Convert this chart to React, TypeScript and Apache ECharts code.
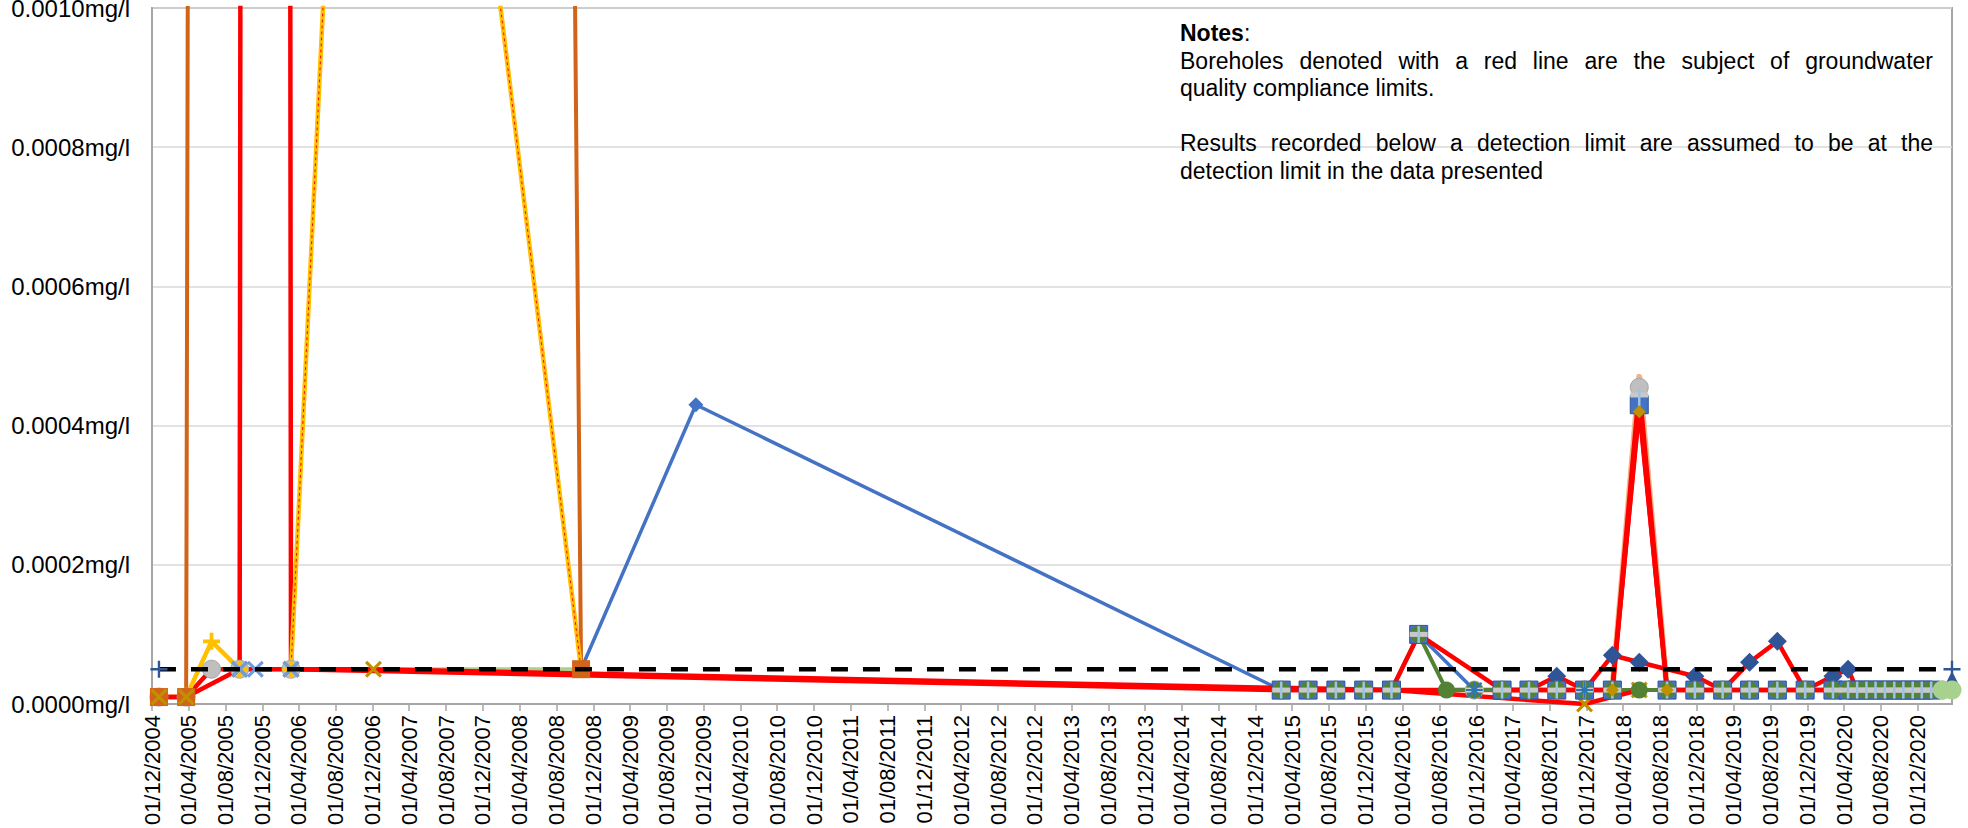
import React, { useEffect, useRef } from 'react';
import * as echarts from 'echarts';

// Sampling dates shared by all boreholes (yyyy-mm-dd)
const sampleDates = [
  '2004-12-24', '2005-03-24', '2005-06-16', '2005-09-17', '2005-11-08', '2005-12-15', '2006-03-06', '2006-12-04', '2008-10-21', '2009-11-05',
  '2015-02-24', '2015-05-24', '2015-08-24', '2015-11-24', '2016-02-24', '2016-05-24', '2016-08-24', '2016-11-24', '2017-02-24', '2017-05-24',
  '2017-08-24', '2017-11-24', '2018-02-24', '2018-05-24', '2018-08-24', '2018-11-24', '2019-02-24', '2019-05-24', '2019-08-24', '2019-11-24',
  '2020-02-24', '2020-04-14', '2020-05-14', '2020-06-14', '2020-07-14', '2020-08-14', '2020-09-14', '2020-10-14', '2020-11-14', '2020-12-14',
  '2021-01-14', '2021-02-20', '2021-03-24',
];

const N = null;

// Readings in mg/l, one entry per sampling date (null = not sampled)
const bh01 = [
  1e-5, 1e-5, N, 5e-5, N, N, 5e-5, 5e-5, N, N,
  N, N, N, N, 2e-5, N, N, N, N, N,
  N, 0, N, 2e-5, N, N, N, N, N, N,
  N, N, N, N, N, N, N, N, N, N,
  N, N, N,
];
const bh02 = [
  1e-5, 1e-5, 5e-5, 5e-5, N, 0.035, 5e-5, N, N, N,
  2e-5, 2e-5, 2e-5, 2e-5, 2e-5, N, N, 2e-5, 2e-5, 2e-5,
  2e-5, 2e-5, 2e-5, 4.55e-4, 2e-5, 2e-5, 2e-5, 2e-5, 2e-5, 2e-5,
  2e-5, 2e-5, 2e-5, 2e-5, 2e-5, 2e-5, 2e-5, 2e-5, 2e-5, 2e-5,
  2e-5, 2e-5, N,
];
const bh03 = [
  1e-5, 1e-5, N, N, N, 0.05, N, N, 5e-5, N,
  N, N, N, N, N, N, N, N, N, N,
  N, N, N, N, N, N, N, N, N, N,
  N, N, N, N, N, N, N, N, N, N,
  N, N, N,
];
const bh04 = [
  1e-5, 1e-5, 9e-5, 5e-5, N, N, 5e-5, 2.5e-3, 5e-5, N,
  N, N, N, N, N, N, N, N, N, N,
  N, N, N, N, N, N, N, N, N, N,
  N, N, N, N, N, N, N, N, N, N,
  N, N, N,
];
const bh05 = [
  N, N, N, N, N, N, 5e-5, 2.5e-3, 5e-5, N,
  N, N, N, N, N, N, N, N, N, N,
  N, N, N, N, N, N, N, N, N, N,
  N, N, N, N, N, N, N, N, N, N,
  N, N, N,
];
const bh06 = [
  N, N, N, N, N, N, N, N, 5e-5, 4.3e-4,
  2e-5, 2e-5, 2e-5, 2e-5, 2e-5, 1e-4, N, 2e-5, 2e-5, 2e-5,
  2e-5, 2e-5, 2e-5, 2e-5, 2e-5, 2e-5, 2e-5, 2e-5, 2e-5, 2e-5,
  2e-5, 2e-5, 2e-5, 2e-5, 2e-5, 2e-5, 2e-5, 2e-5, 2e-5, 2e-5,
  2e-5, 2e-5, N,
];
const bh07 = [
  N, N, N, 5e-5, 5e-5, N, 5e-5, N, N, N,
  N, N, N, N, N, N, N, N, N, N,
  N, N, N, N, N, N, N, N, N, N,
  N, N, N, N, N, N, N, N, N, N,
  N, N, N,
];
const bh08 = [
  N, N, N, N, N, N, 5e-5, 5e-5, 5e-5, N,
  N, N, N, N, N, N, N, N, N, N,
  N, N, N, N, N, N, N, N, N, N,
  N, N, N, N, N, N, N, N, N, N,
  N, N, N,
];
const bh09 = [
  N, N, N, N, N, N, N, N, N, N,
  2e-5, 2e-5, 2e-5, 2e-5, 2e-5, 1e-4, 2e-5, 2e-5, 2e-5, 2e-5,
  2e-5, 2e-5, 2e-5, 2e-5, 2e-5, 2e-5, 2e-5, 2e-5, 2e-5, 2e-5,
  2e-5, 2e-5, 2e-5, 2e-5, 2e-5, 2e-5, 2e-5, 2e-5, 2e-5, 2e-5,
  2e-5, 2e-5, N,
];
const bh10 = [
  N, N, N, N, N, N, N, N, N, N,
  2e-5, 2e-5, 2e-5, 2e-5, 2e-5, 1e-4, N, N, 2e-5, 2e-5,
  2e-5, 2e-5, 2e-5, 4.3e-4, 2e-5, 2e-5, 2e-5, 2e-5, 2e-5, 2e-5,
  2e-5, 2e-5, 2e-5, 2e-5, 2e-5, 2e-5, 2e-5, 2e-5, 2e-5, 2e-5,
  2e-5, N, N,
];
const bh11 = [
  N, N, N, N, N, N, N, N, N, N,
  2e-5, 2e-5, 2e-5, 2e-5, 2e-5, 1e-4, N, 2e-5, 2e-5, 2e-5,
  2e-5, 2e-5, 2e-5, 4.44e-4, 2e-5, 2e-5, 2e-5, 2e-5, 2e-5, 2e-5,
  2e-5, 2e-5, 2e-5, 2e-5, 2e-5, 2e-5, 2e-5, 2e-5, 2e-5, 2e-5,
  2e-5, N, N,
];
const bh12 = [
  N, N, N, N, N, N, N, N, N, N,
  2e-5, 2e-5, 2e-5, 2e-5, 2e-5, 1e-4, N, N, 2e-5, 2e-5,
  2e-5, 2e-5, 2e-5, 4.4e-4, 2e-5, 2e-5, 2e-5, 2e-5, 2e-5, 2e-5,
  2e-5, 2e-5, 2e-5, 2e-5, 2e-5, 2e-5, 2e-5, 2e-5, 2e-5, 2e-5,
  2e-5, N, N,
];
const bh13 = [
  N, N, N, N, N, N, N, N, N, N,
  N, N, N, N, N, N, N, N, N, N,
  N, N, 2e-5, 4.7e-4, 2e-5, N, N, N, N, N,
  N, N, N, N, N, N, N, N, N, N,
  N, N, N,
];
const bh14 = [
  N, N, N, N, N, N, N, N, N, N,
  N, N, N, N, N, N, N, N, N, N,
  N, N, 2e-5, 4.2e-4, 2e-5, N, N, N, N, N,
  N, N, N, N, N, N, N, N, N, N,
  N, N, N,
];
const bh15 = [
  N, N, N, N, N, N, N, N, N, N,
  N, N, N, N, N, N, N, 2e-5, N, N,
  N, 2e-5, N, N, N, N, N, N, N, N,
  N, N, N, N, N, N, N, N, N, N,
  N, N, N,
];
const bh16 = [
  N, N, N, N, N, N, N, N, N, N,
  N, N, N, N, N, N, N, N, 2e-5, 2e-5,
  4e-5, 2e-5, 7e-5, 6e-5, N, 4e-5, 2e-5, 6e-5, 9e-5, 2e-5,
  4e-5, 5e-5, 2e-5, 2e-5, 2e-5, 2e-5, 2e-5, 2e-5, 2e-5, 2e-5,
  2e-5, 2e-5, N,
];
const bh17 = [
  N, N, N, N, N, N, N, N, N, N,
  N, N, N, N, N, N, N, N, N, N,
  N, N, N, N, N, N, N, N, N, N,
  N, N, N, N, N, N, N, N, N, N,
  N, N, 3.6e-5,
];
const bh18 = [
  N, N, N, N, N, N, N, N, N, N,
  N, N, N, N, N, N, N, N, N, N,
  N, N, N, N, N, N, N, N, N, N,
  N, N, N, N, N, N, N, N, N, N,
  N, 2e-5, 2e-5,
];
// Detection / compliance limit line
const limitLine = [
  5e-5, N, N, N, N, N, N, N, N, N,
  N, N, N, N, N, N, N, N, N, N,
  N, N, N, N, N, N, N, N, N, N,
  N, N, N, N, N, N, N, N, N, N,
  N, N, 5e-5,
];

// Axis tick labels every four months
const tickLabels: string[] = [];
for (let k = 0; k <= 48; k++) {
  const mi = 11 + 4 * k;
  const yr = 2004 + Math.floor(mi / 12);
  const mo = (mi % 12) + 1;
  tickLabels.push(`01/${String(mo).padStart(2, '0')}/${yr}`);
}

const yTicks = [0, 0.0002, 0.0004, 0.0006, 0.0008, 0.001];

const notesTitle = 'Notes';
const notesLines = [
  { text: 'Boreholes denoted with a red line are the subject of groundwater', justify: true },
  { text: 'quality compliance limits.', justify: false },
  { text: '', justify: false },
  { text: 'Results recorded below a detection limit are assumed to be at the', justify: true },
  { text: 'detection limit in the data presented', justify: false },
];

const AXIS_START = Date.UTC(2004, 11, 1);
const AXIS_END = '2021-03-24';
const DAY = 86400000;
const isoToDays = (s: string) => {
  const [y, m, d] = s.split('-').map(Number);
  return (Date.UTC(y, m - 1, d) - AXIS_START) / DAY;
};
const labelToDays = (s: string) => {
  const [d, m, y] = s.split('/').map(Number);
  return (Date.UTC(y, m - 1, d) - AXIS_START) / DAY;
};

const SYM_X = 'path://M1.3,0L5,3.7L8.7,0L10,1.3L6.3,5L10,8.7L8.7,10L5,6.3L1.3,10L0,8.7L3.7,5L0,1.3Z';
const SYM_PLUS = 'path://M4.3,0H5.7V4.3H10V5.7H5.7V10H4.3V5.7H0V4.3H4.3Z';
const SYM_PLUS_BOLD = 'path://M3.9,0H6.1V3.9H10V6.1H6.1V10H3.9V6.1H0V3.9H3.9Z';
const SYM_ASTER =
  'path://M4.4,0H5.6V4.4H10V5.6H5.6V10H4.4V5.6H0V4.4H4.4Z M1.1,0.3L5,4.2L8.9,0.3L9.7,1.1L5.8,5L9.7,8.9L8.9,9.7L5,5.8L1.1,9.7L0.3,8.9L4.2,5L0.3,1.1Z';

type LineDef = { color: string; width: number; type?: any };
type MarkDef = { symbol: string; size: number | number[]; color: string; border?: string; borderWidth?: number };
type Def = { name: string; values: (number | null)[]; line?: LineDef; mark?: MarkDef };

const RED = '#FF0000';

const boreholes: Record<string, Def> = {
  bh01: { name: 'BH01', values: bh01, line: { color: RED, width: 4.5 }, mark: { symbol: SYM_X, size: 17, color: '#BF9000' } },
  bh02: { name: 'BH02', values: bh02, line: { color: RED, width: 4.5 }, mark: { symbol: 'circle', size: 18, color: '#BFBFBF', border: '#A5A5A5', borderWidth: 1 } },
  bh03: { name: 'BH03', values: bh03, line: { color: '#D26418', width: 4 }, mark: { symbol: 'rect', size: 18, color: '#D26418' } },
  bh04: { name: 'BH04', values: bh04, line: { color: '#FFC000', width: 4.5 }, mark: { symbol: SYM_PLUS_BOLD, size: 17, color: '#FFC000' } },
  bh05: { name: 'BH05', values: bh05, line: { color: RED, width: 1, type: [2, 4] } },
  bh06: { name: 'BH06', values: bh06, line: { color: '#4472C4', width: 3.5 }, mark: { symbol: 'diamond', size: 15, color: '#4472C4' } },
  bh07: { name: 'BH07', values: bh07, line: { color: '#8FAADC', width: 3.5 }, mark: { symbol: SYM_X, size: 17, color: '#6F9BE0' } },
  bh08: { name: 'BH08', values: bh08, line: { color: '#A9D18E', width: 4 } },
  bh09: { name: 'BH09', values: bh09, line: { color: '#548235', width: 4 }, mark: { symbol: 'circle', size: 17, color: '#548235' } },
  bh10: { name: 'BH10', values: bh10, line: { color: RED, width: 4.5 }, mark: { symbol: 'rect', size: 18, color: '#4472C4', border: '#2F5597', borderWidth: 1 } },
  bh11: { name: 'BH11', values: bh11, line: { color: '#A5A5A5', width: 2.5 }, mark: { symbol: 'rect', size: [18, 5], color: '#C9C9C9' } },
  bh12: { name: 'BH12', values: bh12, line: { color: '#9DC3E6', width: 2.5 }, mark: { symbol: 'rect', size: [2.5, 17], color: '#9DC3E6' } },
  bh13: { name: 'BH13', values: bh13, line: { color: '#F4B183', width: 6 } },
  bh14: { name: 'BH14', values: bh14, line: { color: RED, width: 4 }, mark: { symbol: 'diamond', size: 13, color: '#BF9000' } },
  bh15: { name: 'BH15', values: bh15, mark: { symbol: SYM_ASTER, size: 17, color: '#2E75B6' } },
  bh16: { name: 'BH16', values: bh16, line: { color: RED, width: 4.5 }, mark: { symbol: 'diamond', size: 19, color: '#2F5597' } },
  bh17: { name: 'BH17', values: bh17, mark: { symbol: 'triangle', size: 16, color: '#2F5597' } },
  bh18: { name: 'BH18', values: bh18, line: { color: '#A9D18E', width: 4 }, mark: { symbol: 'circle', size: 19, color: '#A9D18E' } },
};

// Draw order: lines bottom to top, then markers bottom to top
const lineOrder = ['bh08', 'bh18', 'bh11', 'bh12', 'bh13', 'bh03', 'bh07', 'bh06', 'bh02', 'bh09', 'bh04', 'bh05', 'bh14', 'bh01', 'bh10', 'bh16'];
const markOrder = ['bh16', 'bh06', 'bh02', 'bh04', 'bh03', 'bh01', 'bh10', 'bh09', 'bh11', 'bh12', 'bh15', 'bh07', 'bh14', 'bh17', 'bh18'];

const dayX = sampleDates.map(isoToDays);
const toPoints = (vals: (number | null)[]) =>
  vals.map((v, i) => (v == null ? null : [dayX[i], v])).filter((p) => p !== null) as number[][];

const FONT = '"Liberation Sans", Arial, sans-serif';

function measure(text: string, size: number, weight: string) {
  const ctx = document.createElement('canvas').getContext('2d')!;
  ctx.font = `${weight} ${size}px "Liberation Sans"`;
  return ctx.measureText(text).width;
}

function buildNotes() {
  const x0 = 1180;
  const x1 = 1933;
  const size = 23;
  const top = 33;
  const lh = 27.6;
  const els: any[] = [];
  const txt = (text: string, x: number, y: number, weight = 'normal') => ({
    type: 'text',
    x,
    y,
    z: 20,
    silent: true,
    style: { text, fontSize: size, fontFamily: FONT, fontWeight: weight, fill: '#000', verticalAlign: 'middle' },
  });
  els.push(txt(notesTitle, x0, top, 'bold'));
  els.push(txt(':', x0 + measure(notesTitle, size, 'bold'), top));
  notesLines.forEach((ln, i) => {
    const y = top + lh * (i + 1);
    if (!ln.text) return;
    if (!ln.justify) {
      els.push(txt(ln.text, x0, y));
      return;
    }
    const words = ln.text.split(' ');
    const widths = words.map((w) => measure(w, size, 'normal'));
    const total = widths.reduce((a, b) => a + b, 0);
    const gap = (x1 - x0 - total) / (words.length - 1);
    let x = x0;
    words.forEach((w, k) => {
      els.push(txt(w, x, y));
      x += widths[k] + gap;
    });
  });
  return els;
}

function buildOption() {
  const tickDays = tickLabels.map(labelToDays);
  const labelByDay = new Map<number, string>();
  tickLabels.forEach((l, i) => labelByDay.set(Math.round(tickDays[i]), l));

  const series: any[] = [];
  lineOrder.forEach((key) => {
    const d = boreholes[key];
    if (!d.line) return;
    series.push({
      type: 'line',
      name: d.name,
      data: toPoints(d.values),
      symbol: 'none',
      showSymbol: false,
      clip: true,
      silent: true,
      z: 2,
      lineStyle: { color: d.line.color, width: d.line.width, type: d.line.type || 'solid', join: 'round', cap: 'round' },
    });
  });
  markOrder.forEach((key) => {
    const d = boreholes[key];
    if (!d.mark) return;
    series.push({
      type: 'scatter',
      name: d.name,
      data: toPoints(d.values),
      symbol: d.mark.symbol,
      symbolSize: d.mark.size,
      clip: true,
      silent: true,
      z: 3,
      itemStyle: {
        color: d.mark.color,
        opacity: 1,
        borderColor: d.mark.border || d.mark.color,
        borderWidth: d.mark.borderWidth || 0,
      },
    });
  });
  series.push({
    type: 'line',
    name: 'Limit',
    data: toPoints(limitLine),
    symbol: 'none',
    showSymbol: false,
    silent: true,
    z: 4,
    lineStyle: { color: '#000', width: 4.5, type: [17, 15], cap: 'butt' },
  });
  series.push({
    type: 'scatter',
    name: 'Limit',
    data: toPoints(limitLine),
    symbol: SYM_PLUS,
    symbolSize: 17,
    silent: true,
    z: 5,
    itemStyle: { color: '#2F5597', opacity: 1 },
  });

  return {
    animation: false,
    backgroundColor: '#fff',
    grid: {
      left: 152,
      top: 8,
      right: 16,
      bottom: 124,
      containLabel: false,
      outerBoundsMode: 'none',
      show: true,
      borderColor: '#A6A6A6',
      borderWidth: 2,
    },
    xAxis: {
      type: 'value',
      min: 0,
      max: isoToDays(AXIS_END),
      axisLine: { show: true, onZero: false, lineStyle: { color: '#A6A6A6', width: 2 } },
      axisTick: { show: true, customValues: tickDays, length: 7, lineStyle: { color: '#A6A6A6', width: 1.5 } },
      splitLine: { show: false },
      axisLabel: {
        customValues: tickDays,
        rotate: 90,
        margin: 11,
        fontSize: 22,
        fontFamily: FONT,
        color: '#000',
        formatter: (v: number) => labelByDay.get(Math.round(v)) || '',
      },
    },
    yAxis: {
      type: 'value',
      min: yTicks[0],
      max: yTicks[yTicks.length - 1],
      interval: yTicks[1] - yTicks[0],
      axisLine: { show: true, lineStyle: { color: '#A6A6A6', width: 2 } },
      axisTick: { show: false },
      splitLine: { show: true, lineStyle: { color: '#D9D9D9', width: 1.5 } },
      axisLabel: {
        margin: 22,
        fontSize: 24,
        fontFamily: FONT,
        color: '#000',
        formatter: (v: number) => `${v.toFixed(4)}mg/l`,
      },
    },
    graphic: buildNotes(),
    series,
  };
}

export default function App() {
  const ref = useRef<HTMLDivElement>(null);
  useEffect(() => {
    const chart = echarts.init(ref.current!, undefined, { renderer: 'svg' });
    chart.setOption(buildOption() as any);
    return () => chart.dispose();
  }, []);
  return (
    <div
      ref={ref}
      style={{ position: 'absolute', left: 0, top: 0, width: 1968, height: 828, background: '#fff' }}
    />
  );
}
